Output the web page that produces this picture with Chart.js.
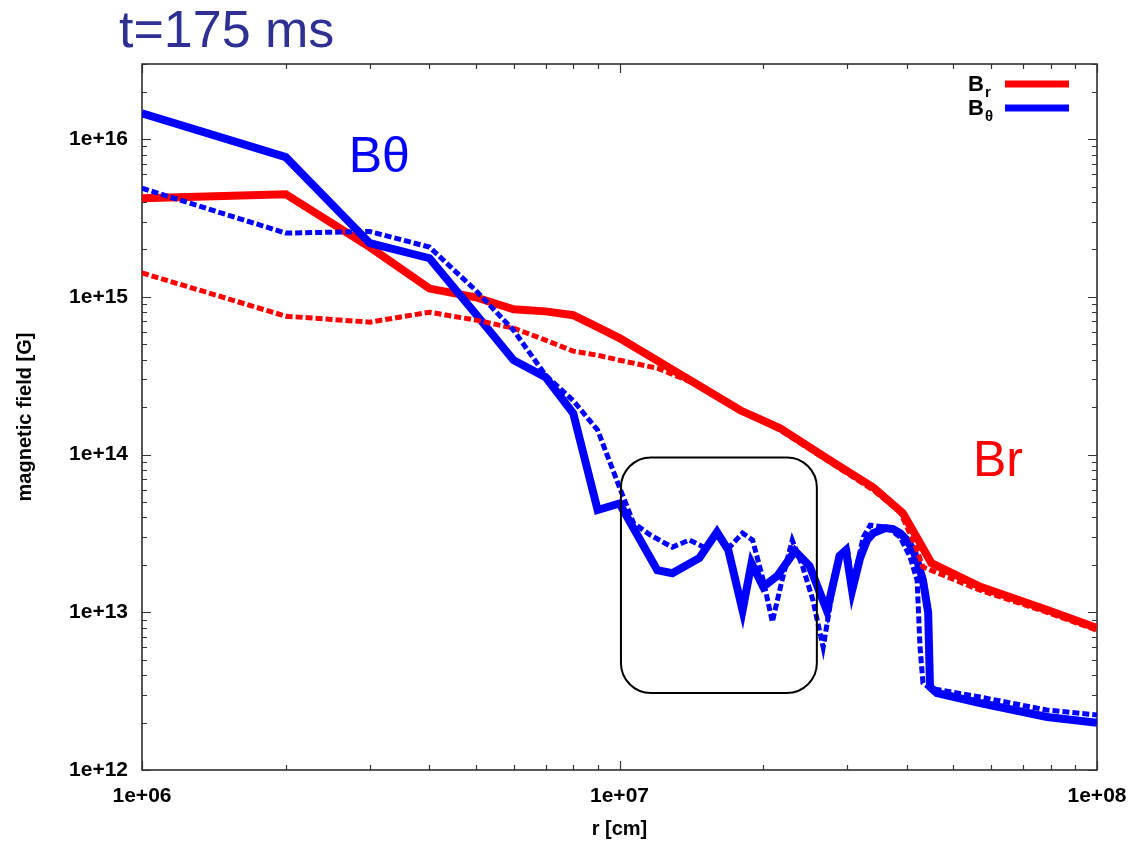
<!DOCTYPE html>
<html>
<head>
<meta charset="utf-8">
<script src="https://cdn.jsdelivr.net/npm/chart.js@4.4.0/dist/chart.umd.min.js"></script>
<style>
  html, body { margin: 0; padding: 0; background: #fff; }
  #wrap { width: 1132px; height: 841px; position: relative; }
</style>
</head>
<body>
<div id="wrap"><canvas id="bfield"></canvas></div>
<script>
// radius [cm] and field [G] for each curve
const rBrSolid = [1e6, 2e6, 3e6, 4e6, 5e6, 6e6, 7e6, 8e6, 9e6, 1e7, 1.79e7, 2.17e7, 2.76e7, 3.4e7, 3.92e7, 4.26e7, 4.5e7, 5.7e7, 7.9e7, 1e8]
const brSolid = [4.23e15, 4.48e15, 2.07e15, 1.13e15, 9.95e14, 8.36e14, 8.1e14, 7.66e14, 6.43e14, 5.48e14, 1.91e14, 1.47e14, 9.2e13, 6.2e13, 4.26e13, 2.75e13, 2.05e13, 1.45e13, 1.03e13, 7.94e12]

const rBrDash = [1e6, 2e6, 3e6, 4e6, 5e6, 6e6, 7e6, 8e6, 9e6, 1e7, 1.2e7, 1.47e7, 1.79e7, 2.17e7, 2.76e7, 3.4e7, 3.87e7, 4.16e7, 4.32e7, 5.69e7, 7.86e7, 1e8]
const brDash = [1.42e15, 7.55e14, 6.92e14, 8.0e14, 7.13e14, 6.34e14, 5.32e14, 4.53e14, 4.27e14, 3.97e14, 3.53e14, 2.75e14, 1.93e14, 1.43e14, 8.95e13, 5.96e13, 4.32e13, 2.67e13, 1.94e13, 1.38e13, 1.0e13, 7.7e12]

const rBtSolid = [1e6, 2e6, 3e6, 4e6, 5e6, 6e6, 7e6, 8e6, 9e6, 1e7, 1.2e7, 1.29e7, 1.47e7, 1.6e7, 1.69e7, 1.81e7, 1.89e7, 2.0e7, 2.14e7, 2.33e7, 2.5e7, 2.72e7, 2.89e7, 2.98e7, 3.07e7, 3.19e7, 3.3e7, 3.4e7, 3.6e7, 3.74e7, 3.87e7, 4.0e7, 4.12e7, 4.21e7, 4.32e7, 4.43e7, 4.47e7, 4.62e7, 5.69e7, 7.86e7, 1e8]
const btSolid = [1.46e16, 7.7e15, 2.19e15, 1.76e15, 7.8e14, 3.97e14, 3.1e14, 1.83e14, 4.45e13, 4.9e13, 1.85e13, 1.77e13, 2.21e13, 3.23e13, 2.48e13, 1.03e13, 2.05e13, 1.45e13, 1.7e13, 2.45e13, 1.97e13, 1.02e13, 2.28e13, 2.48e13, 1.38e13, 2.21e13, 2.87e13, 3.18e13, 3.42e13, 3.37e13, 3.18e13, 2.87e13, 2.48e13, 2.08e13, 1.6e13, 1.0e13, 3.36e12, 3.08e12, 2.66e12, 2.17e12, 1.99e12]

const rBtDash = [1e6, 2e6, 3e6, 4e6, 5e6, 6e6, 7e6, 8e6, 9e6, 1e7, 1.07e7, 1.16e7, 1.29e7, 1.4e7, 1.52e7, 1.6e7, 1.7e7, 1.81e7, 1.9e7, 2.0e7, 2.09e7, 2.19e7, 2.3e7, 2.42e7, 2.54e7, 2.67e7, 2.87e7, 3.0e7, 3.07e7, 3.24e7, 3.35e7, 3.63e7, 3.87e7, 4.06e7, 4.2e7, 4.26e7, 4.32e7, 4.47e7, 5.69e7, 7.86e7, 1e8]
const btDash = [4.89e15, 2.54e15, 2.6e15, 2.07e15, 1.1e15, 6.15e14, 3.19e14, 2.2e14, 1.43e14, 6.2e13, 3.68e13, 3.09e13, 2.59e13, 2.87e13, 2.55e13, 3.09e13, 2.59e13, 3.18e13, 2.87e13, 1.6e13, 8.7e12, 1.6e13, 2.87e13, 1.94e13, 1.2e13, 6.0e12, 2.24e13, 2.59e13, 1.45e13, 3.0e13, 3.57e13, 3.47e13, 3.0e13, 2.24e13, 1.6e13, 6.0e12, 3.57e12, 3.3e12, 2.9e12, 2.4e12, 2.23e12]

const xTicks = [1e6, 1e7, 1e8]
const yTicks = [1e12, 1e13, 1e14, 1e15, 1e16]
const legendItems = [
    { main: 'B', sub: 'r', color: '#ff0000' },
    { main: 'B', sub: 'θ', color: '#0000ff' }
]

const FONT = '"Liberation Sans", Arial, Helvetica, sans-serif'
const RED = '#ff0000'
const BLUE = '#0000ff'

// highlighted region (data units) and the curve names
const boxRange = { x0: 1.007e7, x1: 2.59e7, y0: 3.08e12, y1: 9.6e13 }
const curveNames = [
    { text: 'Bθ', x: 2.71e6, y: 6.2e15, color: BLUE },
    { text: 'Br', x: 5.5e7, y: 7.3e13, color: RED }
]

function toPoints(xs, ys) {
    return xs.map((x, i) => ({ x: x, y: ys[i] }))
}

function expLabel(v) {
    const e = Math.round(Math.log10(v))
    return '1e+' + String(e).padStart(2, '0')
}

function drawLogTicks(ctx, scale, area, horizontal) {
    const lo = Math.floor(Math.log10(scale.min))
    const hi = Math.ceil(Math.log10(scale.max))
    for (let e = lo; e <= hi; e++) {
        for (let k = 1; k <= 9; k++) {
            const v = k * Math.pow(10, e)
            if (v < scale.min * 0.999 || v > scale.max * 1.001) continue
            const p = Math.round(scale.getPixelForValue(v)) + 0.5
            const len = k === 1 ? 9 : 5
            ctx.beginPath()
            if (horizontal) {
                ctx.moveTo(p, area.bottom); ctx.lineTo(p, area.bottom - len)
                ctx.moveTo(p, area.top); ctx.lineTo(p, area.top + len)
            } else {
                ctx.moveTo(area.left, p); ctx.lineTo(area.left + len, p)
                ctx.moveTo(area.right, p); ctx.lineTo(area.right - len, p)
            }
            ctx.stroke()
        }
    }
}

// gnuplot-like border with inward major/minor ticks
const framePlugin = {
    id: 'frame',
    beforeDatasetsDraw(chart) {
        const { ctx, chartArea: a, scales } = chart
        ctx.save()
        ctx.strokeStyle = '#222'
        ctx.lineWidth = 1.5
        ctx.strokeRect(a.left, a.top, a.right - a.left, a.bottom - a.top)
        ctx.lineWidth = 1.2
        ctx.strokeStyle = '#333'
        drawLogTicks(ctx, scales.x, a, true)
        drawLogTicks(ctx, scales.y, a, false)
        ctx.restore()
    }
}

const annotationPlugin = {
    id: 'notes',
    afterDatasetsDraw(chart) {
        const { ctx, chartArea: a, scales } = chart
        const sx = scales.x, sy = scales.y
        ctx.save()

        // rounded box
        const bx0 = sx.getPixelForValue(boxRange.x0), bx1 = sx.getPixelForValue(boxRange.x1)
        const by0 = sy.getPixelForValue(boxRange.y1), by1 = sy.getPixelForValue(boxRange.y0)
        ctx.beginPath()
        ctx.roundRect(bx0, by0, bx1 - bx0, by1 - by0, 30)
        ctx.strokeStyle = '#000'
        ctx.lineWidth = 2
        ctx.stroke()

        // curve names
        ctx.font = '50px ' + FONT
        ctx.textAlign = 'left'
        ctx.textBaseline = 'alphabetic'
        curveNames.forEach(n => {
            ctx.fillStyle = n.color
            ctx.fillText(n.text, sx.getPixelForValue(n.x), sy.getPixelForValue(n.y))
        })

        // legend with subscripts
        legendItems.forEach((it, i) => {
            const ly = a.top + 20 + i * 24
            ctx.fillStyle = '#000'
            ctx.font = 'bold 22px ' + FONT
            ctx.textAlign = 'right'
            ctx.fillText(it.main, a.right - 113, ly + 7)
            ctx.font = 'bold 15px ' + FONT
            ctx.textAlign = 'left'
            ctx.fillText(it.sub, a.right - 112, ly + 13)
            ctx.beginPath()
            ctx.moveTo(a.right - 92, ly)
            ctx.lineTo(a.right - 28, ly)
            ctx.strokeStyle = it.color
            ctx.lineWidth = 7
            ctx.stroke()
        })

        // time stamp
        ctx.font = '52px ' + FONT
        ctx.fillStyle = '#2e3192'
        ctx.textAlign = 'left'
        ctx.fillText('t=175 ms', 119, 47)
        ctx.restore()
    }
}

function lineSet(label, xs, ys, color, dashed, order) {
    return {
        label: label,
        data: toPoints(xs, ys),
        borderColor: color,
        backgroundColor: color,
        borderWidth: dashed ? 5 : 8,
        borderDash: dashed ? [7, 3] : [],
        borderCapStyle: 'butt',
        borderJoinStyle: 'miter',
        pointRadius: 0,
        tension: 0,
        fill: false,
        order: order
    }
}

const tickFont = { family: FONT, size: 21, weight: 'bold' }
const titleFont = { family: FONT, size: 20, weight: 'bold' }

new Chart(document.getElementById('bfield'), {
    type: 'line',
    data: {
        datasets: [
            lineSet('Br', rBrSolid, brSolid, RED, false, 4),
            lineSet('Bθ', rBtSolid, btSolid, BLUE, false, 3),
            lineSet('Br dashed', rBrDash, brDash, RED, true, 2),
            lineSet('Bθ dashed', rBtDash, btDash, BLUE, true, 1)
        ]
    },
    options: {
        responsive: true,
        maintainAspectRatio: false,
        animation: false,
        devicePixelRatio: 1,
        layout: { padding: { left: 13, top: 64, right: 35, bottom: 0 } },
        plugins: {
            legend: { display: false },
            tooltip: { enabled: false }
        },
        scales: {
            x: {
                type: 'logarithmic',
                position: 'bottom',
                min: 1e6,
                max: 1e8,
                grid: { display: false, drawTicks: false },
                border: { display: false },
                ticks: {
                    font: tickFont, color: '#000', padding: 14,
                    autoSkip: false, maxRotation: 0,
                    callback: v => expLabel(v)
                },
                title: { display: true, text: 'r [cm]', font: titleFont, color: '#000', padding: { top: 0, bottom: 0 } },
                afterBuildTicks: s => { s.ticks = xTicks.map(v => ({ value: v })) },
                afterFit: s => { s.height = 71; s.paddingLeft = 0; s.paddingRight = 0 }
            },
            y: {
                type: 'logarithmic',
                min: 1e12,
                max: 3e16,
                grid: { display: false, drawTicks: false },
                border: { display: false },
                ticks: {
                    font: tickFont, color: '#000', padding: 14,
                    autoSkip: false,
                    callback: v => expLabel(v)
                },
                title: { display: true, text: 'magnetic field [G]', font: titleFont, color: '#000', padding: { top: 0, bottom: 0 } },
                afterBuildTicks: s => { s.ticks = yTicks.map(v => ({ value: v })) },
                afterFit: s => { s.width = 129; s.paddingTop = 0; s.paddingBottom = 0 }
            }
        }
    },
    plugins: [framePlugin, annotationPlugin]
})
</script>
</body>
</html>
